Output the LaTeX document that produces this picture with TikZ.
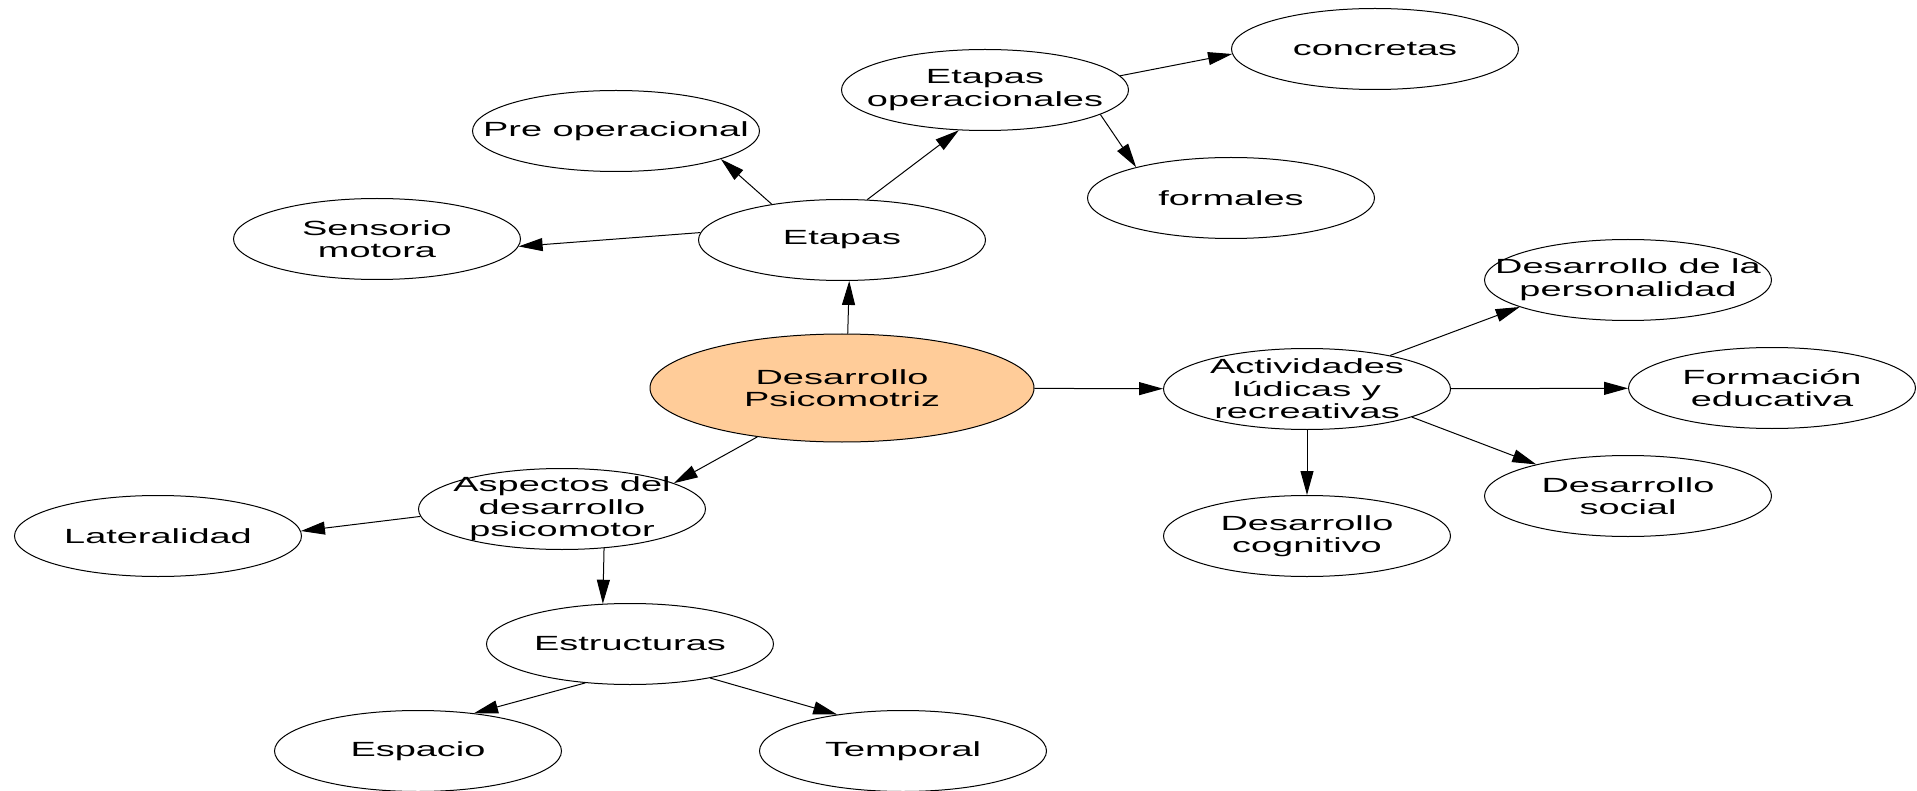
\documentclass[tikz,border=0pt]{standalone}
\usepackage{fontspec}
\setmainfont{Liberation Sans}[FakeStretch=1.85]
\usetikzlibrary{shapes.geometric,arrows.meta}
\definecolor{peach}{RGB}{255,204,153}
\tikzset{
	bub/.style={ellipse, draw, line width=0.5pt, minimum width=143.5pt, minimum height=40.5pt, inner sep=0pt, label={[lbl]center:#1}},
	lbl/.style={align=center, inner sep=0pt, font=\fontsize{10.25pt}{11.3pt}\selectfont},
	arr/.style={line width=0.5pt, -{Triangle[length=12pt,width=6.5pt]}},
}
\begin{document}
\begin{tikzpicture}[x=0.5pt, y=-0.5pt]
	\useasboundingbox (0,0) rectangle (1917,791);
	\node[bub={Desarrollo\\Psicomotriz}, fill=peach, minimum width=192pt, minimum height=54pt] (dp) at (842,388) {};
	\node[bub=Etapas] (et) at (842,240) {};
	\node[bub={Sensorio\\motora}] (sm) at (377,239) {};
	\node[bub={Pre operacional}] (po) at (616,131) {};
	\node[bub={Etapas\\operacionales}] (eo) at (985,90) {};
	\node[bub=concretas] (co) at (1375,49) {};
	\node[bub=formales] (fo) at (1231,198) {};
	\node[bub={Actividades\\lúdicas y\\recreativas}] (al) at (1307,389) {};
	\node[bub={Desarrollo de la\\personalidad}] (dpe) at (1628,280) {};
	\node[bub={Formación\\educativa}] (fe) at (1772,388) {};
	\node[bub={Desarrollo\\social}] (ds) at (1628,496) {};
	\node[bub={Desarrollo\\cognitivo}] (dc) at (1307,536) {};
	\node[bub={Aspectos del\\desarrollo\\psicomotor}] (ad) at (562,509) {};
	\node[bub=Lateralidad] (la) at (158,536) {};
	\node[bub=Estructuras] (es) at (630,644) {};
	\node[bub=Espacio] (sp) at (418,751) {};
	\node[bub=Temporal] (te) at (903,751) {};

	\draw[arr] (dp.84) -- (et.-80);
	\draw[arr] (et.177) -- (sm.-3);
	\draw[arr] (et.153) -- (po.-15);
	\draw[arr] (et.58) -- (eo.237);
	\draw[arr] (eo.6) -- (co.182);
	\draw[arr] (eo.-12) -- (fo.162);
	\draw[arr] (dp) -- (al);
	\draw[arr] (al.22) -- (dpe.194);
	\draw[arr] (al) -- (fe);
	\draw[arr] (al.-15) -- (ds.161);
	\draw[arr] (al) -- (dc);
	\draw[arr] (dp.210) -- (ad.13);
	\draw[arr] (ad.183) -- (la.2);
	\draw[arr] (ad.-43) -- (es.124);
	\draw[arr] (es.221) -- (sp.34);
	\draw[arr] (es.-23) -- (te.151);
\end{tikzpicture}
\end{document}
